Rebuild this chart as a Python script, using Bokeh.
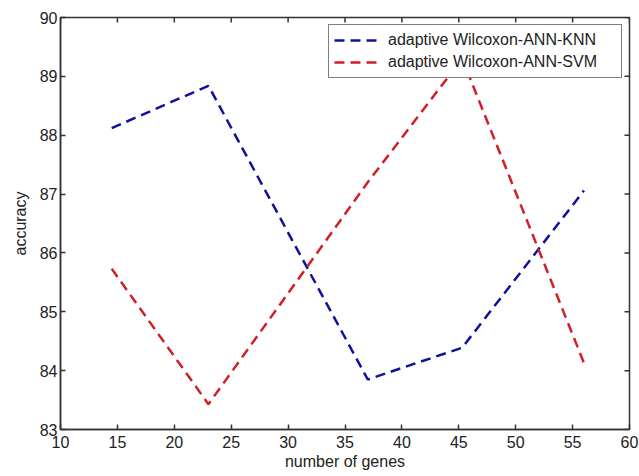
import math
from bokeh.plotting import figure
from bokeh.models import FixedTicker, Range1d, Legend, LegendItem
from bokeh.embed import file_html
from bokeh.resources import INLINE

# data
genes = [14.5, 23, 37, 45.3, 56]
knn = [88.12, 88.84, 83.85, 84.39, 87.06]
svm = [85.73, 83.43, 87.2, 89.3, 84.13]
x_ticks = [10, 15, 20, 25, 30, 35, 40, 45, 50, 55, 60]
y_ticks = [83, 84, 85, 86, 87, 88, 89, 90]
series_names = ["adaptive Wilcoxon-ANN-KNN", "adaptive Wilcoxon-ANN-SVM"]

FONT = "Liberation Sans"
AX = "#333333"
TXT = "#222222"

p = figure(width=639, height=476,
           x_range=Range1d(x_ticks[0], x_ticks[-1]), y_range=Range1d(y_ticks[0], y_ticks[-1]),
           output_backend="svg", toolbar_location=None,
           min_border_left=60, min_border_right=10, min_border_top=17, min_border_bottom=47)
p.xgrid.visible = False
p.ygrid.visible = False
p.outline_line_color = AX
p.outline_line_width = 1.5
p.background_fill_color = "white"
p.border_fill_color = "white"

l1 = p.line(genes, knn, line_color="#10109a", line_width=2.5, line_dash="10 6")
l2 = p.line(genes, svm, line_color="#d01f26", line_width=2.5, line_dash="10 6")

for ax, ticks in ((p.xaxis[0], x_ticks), (p.yaxis[0], y_ticks)):
    ax.ticker = FixedTicker(ticks=ticks)
    ax.major_tick_in = 5
    ax.major_tick_out = 0
    ax.minor_tick_in = 0
    ax.minor_tick_out = 0
    ax.axis_line_color = AX
    ax.axis_line_width = 1.5
    ax.major_tick_line_color = AX
    ax.major_tick_line_width = 1.5
    ax.major_label_text_font = FONT
    ax.major_label_text_font_size = "16px"
    ax.major_label_text_color = TXT
    ax.axis_label_text_font = FONT
    ax.axis_label_text_font_size = "16px"
    ax.axis_label_text_font_style = "normal"
    ax.axis_label_text_color = TXT

p.xaxis[0].axis_label = "number of genes"
p.yaxis[0].axis_label = "accuracy"
p.xaxis[0].major_label_standoff = 6
p.xaxis[0].axis_label_standoff = 2
p.yaxis[0].major_label_standoff = 3
p.yaxis[0].axis_label_standoff = 8

# box ticks on top and right spines (inward, MATLAB style)
p.ray(x=x_ticks, y=[y_ticks[-1]] * len(x_ticks), length=5, length_units="screen",
      angle=-math.pi / 2, line_color=AX, line_width=1.5)
p.ray(x=[x_ticks[-1]] * len(y_ticks), y=y_ticks, length=5, length_units="screen",
      angle=math.pi, line_color=AX, line_width=1.5)

legend = Legend(items=[LegendItem(label=series_names[0], renderers=[l1]),
                       LegendItem(label=series_names[1], renderers=[l2])],
                location="top_right")
legend.margin = 7
legend.padding = 5
legend.spacing = 2
legend.glyph_width = 47
legend.label_standoff = 7
legend.label_width = 228
legend.label_text_font = FONT
legend.label_text_font_size = "16px"
legend.label_text_color = TXT
legend.border_line_color = "black"
legend.border_line_width = 1.2
legend.background_fill_color = "white"
legend.background_fill_alpha = 1.0
p.add_layout(legend)

open("out.html", "w").write(file_html(p, INLINE))
